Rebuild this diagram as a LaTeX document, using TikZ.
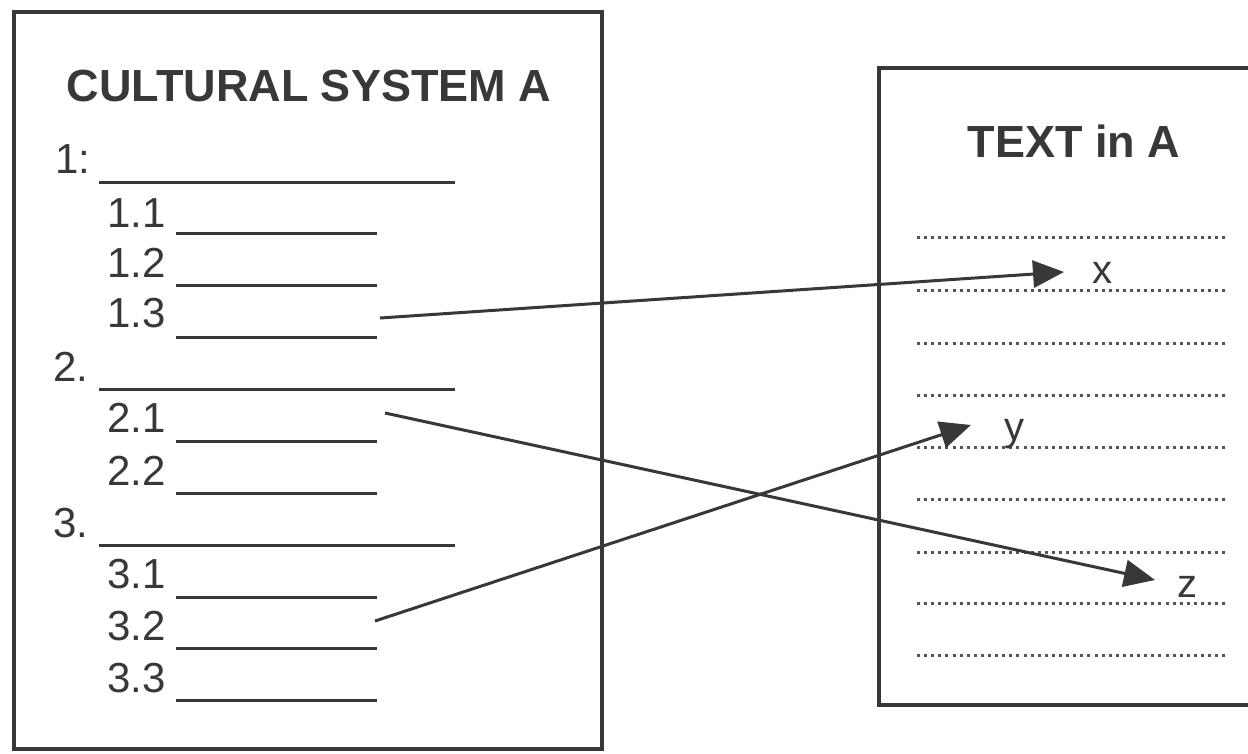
\documentclass[tikz,border=0pt]{standalone}
\usepackage{fontspec}
\setmainfont{Liberation Sans}
\usetikzlibrary{arrows.meta}

\definecolor{ink}{HTML}{383838}
\definecolor{dotink}{HTML}{555555}

\begin{document}
\begin{tikzpicture}[x=1pt,y=-1pt,
  frame/.style={draw=ink,line width=3.4pt},
  heading/.style={inner sep=0pt,anchor=base,text=ink,font=\fontsize{45}{50}\selectfont\bfseries},
  numlabel/.style={inner sep=0pt,anchor=base west,text=ink,font=\fontsize{42}{48}\selectfont},
  varlabel/.style={inner sep=0pt,anchor=base west,text=ink,font=\fontsize{40}{46}\selectfont},
  blank/.style={draw=ink,line width=3pt},
  textline/.style={draw=dotink,line width=3pt,dash pattern=on 3pt off 4.1pt},
  link/.style={draw=ink,line width=3pt,-{Triangle[length=31pt,width=27pt]}}]

\useasboundingbox (0,0) rectangle (1248,753);
\fill[white] (0,0) rectangle (1248,753);
\clip (0,0) rectangle (1248,753);

% left frame: the outline of the cultural system
\draw[frame] (14,12) rectangle (602,749);
\node[heading] (csA) at (309,101) {CULTURAL SYSTEM A};

% numbered entries with blank lines
\node[numlabel] (n1)  at (55,173)  {1:};
\node[numlabel] (n11) at (107,227) {1.1};
\node[numlabel] (n12) at (107,277) {1.2};
\node[numlabel] (n13) at (107,327) {1.3};
\node[numlabel] (n2)  at (53,381)  {2.};
\node[numlabel] (n21) at (107,432) {2.1};
\node[numlabel] (n22) at (107,485) {2.2};
\node[numlabel] (n3)  at (53,537)  {3.};
\node[numlabel] (n31) at (107,588) {3.1};
\node[numlabel] (n32) at (107,640) {3.2};
\node[numlabel] (n33) at (107,692) {3.3};

\foreach \y in {182,389,545} \draw[blank] (99,\y) -- (455,\y);
\foreach \y in {233,285,337,441,493,597,648,700} \draw[blank] (176,\y) -- (377,\y);

% right frame: the text, extending past the right edge
\draw[frame] (879,68) rectangle (1275,705);
\node[heading] (txtA) at (1074,157) {TEXT in A};

\foreach \y in {237,290,343,395,447,499,552,603,655}
  \draw[textline] (917,\y) -- (1226,\y);

% elements found in the text
\node[varlabel] (lx) at (1092,283) {x};
\node[varlabel] (ly) at (1004,440) {y};
\node[varlabel] (lz) at (1177,597) {z};

% connections from categories to text elements
\coordinate (s13) at (380,318);
\coordinate (s21) at (385,413);
\coordinate (s32) at (375,621);
\coordinate (tx) at (1064,272);
\coordinate (ty) at (971,425);
\coordinate (tz) at (1155,580);

\draw[link] (s13) -- (tx);
\draw[link] (s21) -- (tz);
\draw[link] (s32) -- (ty);
\end{tikzpicture}
\end{document}
